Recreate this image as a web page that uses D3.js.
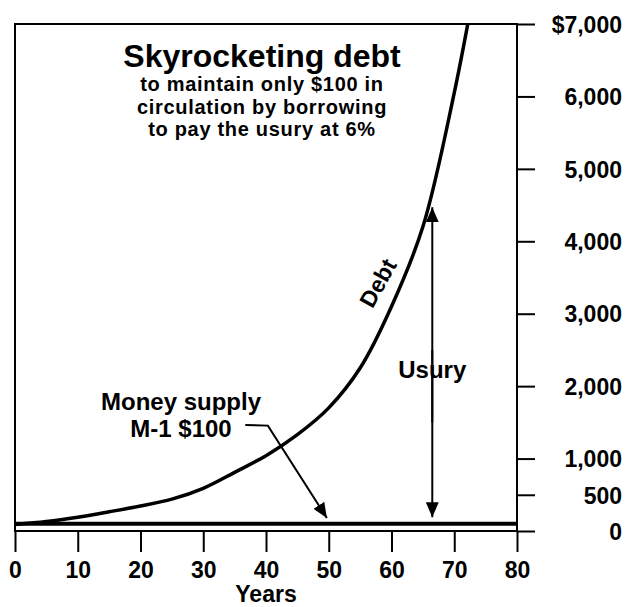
<!DOCTYPE html>
<html>
<head>
<meta charset="utf-8">
<script src="https://cdn.jsdelivr.net/npm/d3@7"></script>
<style>
  html, body { margin: 0; padding: 0; background: #fff; }
  svg { display: block; font-family: "Liberation Sans", Arial, Helvetica, sans-serif; font-weight: bold; }
</style>
</head>
<body>
<svg id="chart" width="637" height="607"></svg>
<script>
// debt curve (dollars by year)
const years = [0, 5, 10, 15, 20, 25, 30, 35, 40, 45, 50, 55, 60, 65, 70, 73];
const debt = [90, 130, 190, 265, 345, 440, 590, 810, 1040, 1330, 1700, 2250, 3100, 4200, 6050, 7400];
const moneySupply = 100;

const xTicks = [0, 10, 20, 30, 40, 50, 60, 70, 80];
const yTicks = [0, 500, 1000, 2000, 3000, 4000, 5000, 6000, 7000];

const titleText = "Skyrocketing debt";
const subtitleLines = ["to maintain only $100 in", "circulation by borrowing", "to pay the usury at 6%"];

const svg = d3.select("#chart");

const x = d3.scaleLinear().domain([0, 80]).range([15, 517]);
const y = d3.scaleLinear().domain([0, 7000]).range([531, 24]);

const defs = svg.append("defs");
defs.append("clipPath").attr("id", "plot")
  .append("rect")
  .attr("x", x(0)).attr("y", y(7000))
  .attr("width", x(80) - x(0)).attr("height", y(0) - y(7000));

defs.append("marker")
  .attr("id", "head")
  .attr("viewBox", "0 0 15 13")
  .attr("refX", 15).attr("refY", 6.5)
  .attr("markerWidth", 15).attr("markerHeight", 13)
  .attr("markerUnits", "userSpaceOnUse")
  .attr("orient", "auto")
  .append("path")
  .attr("d", "M0,0 L15,6.5 L0,13 Z")
  .attr("fill", "#000");

// x axis
const xAxis = svg.append("g")
  .attr("transform", `translate(0,${y(0)})`)
  .call(d3.axisBottom(x).tickValues(xTicks).tickSize(21).tickSizeOuter(0).tickPadding(10));
xAxis.select(".domain").remove();
xAxis.selectAll("line").attr("stroke", "#000").attr("stroke-width", 2);
xAxis.selectAll("text")
  .attr("fill", "#000")
  .style("font-size", "23px")
  .style("font-weight", "bold");

// right axis
const yAxis = svg.append("g")
  .attr("transform", `translate(${x(80)},0)`)
  .call(d3.axisRight(y).tickValues(yTicks).tickSize(18).tickSizeOuter(0)
    .tickFormat(d => d === 7000 ? "$7,000" : d3.format(",")(d)));
yAxis.select(".domain").remove();
yAxis.selectAll("line").attr("stroke", "#000").attr("stroke-width", 2);
yAxis.selectAll("text")
  .attr("fill", "#000")
  .attr("text-anchor", "end")
  .attr("x", 105)
  .attr("dy", "0.36em")
  .style("font-size", "23px")
  .style("font-weight", "bold");

// frame
svg.append("rect")
  .attr("x", x(0)).attr("y", y(7000))
  .attr("width", x(80) - x(0)).attr("height", y(0) - y(7000))
  .attr("fill", "none")
  .attr("stroke", "#000")
  .attr("stroke-width", 2);

// money supply line
svg.append("line")
  .attr("x1", x(0)).attr("x2", x(80))
  .attr("y1", y(moneySupply)).attr("y2", y(moneySupply))
  .attr("stroke", "#000")
  .attr("stroke-width", 4);

// debt curve
const line = d3.line()
  .x((d, i) => x(years[i]))
  .y(d => y(d))
  .curve(d3.curveCatmullRom.alpha(0.5));

svg.append("path")
  .datum(debt)
  .attr("clip-path", "url(#plot)")
  .attr("d", line)
  .attr("fill", "none")
  .attr("stroke", "#000")
  .attr("stroke-width", 3.5);

// title block
svg.append("text")
  .attr("x", 262).attr("y", 67)
  .attr("text-anchor", "middle")
  .style("font-size", "32px")
  .text(titleText);

svg.append("g").selectAll("text")
  .data(subtitleLines)
  .join("text")
  .attr("x", 262)
  .attr("y", (d, i) => 91 + i * 22.5)
  .attr("text-anchor", "middle")
  .style("font-size", "20px")
  .style("letter-spacing", "0.7px")
  .text(d => d);

// Debt label along the curve
svg.append("text")
  .attr("transform", "translate(378,283) rotate(-61)")
  .attr("text-anchor", "middle")
  .attr("dominant-baseline", "central")
  .style("font-size", "23px")
  .text("Debt");

// Usury double arrow
svg.append("line")
  .attr("x1", x(66.5)).attr("x2", x(66.5))
  .attr("y1", y(1500)).attr("y2", y(4470))
  .attr("stroke", "#000").attr("stroke-width", 2)
  .attr("marker-end", "url(#head)");
svg.append("line")
  .attr("x1", x(66.5)).attr("x2", x(66.5))
  .attr("y1", y(2500)).attr("y2", y(190))
  .attr("stroke", "#000").attr("stroke-width", 2)
  .attr("marker-end", "url(#head)");

svg.append("text")
  .attr("x", x(66.5)).attr("y", 378)
  .attr("text-anchor", "middle")
  .style("font-size", "24px")
  .text("Usury");

// Money supply label with leader arrow
svg.append("text")
  .attr("x", 181).attr("y", 410)
  .attr("text-anchor", "middle")
  .style("font-size", "24px")
  .text("Money supply");
svg.append("text")
  .attr("x", 181).attr("y", 437)
  .attr("text-anchor", "middle")
  .style("font-size", "24px")
  .text("M-1 $100");

const leader = [[36.7, 1463], [40.3, 1455], [49.7, 180]];
svg.append("path")
  .attr("d", d3.line().x(d => x(d[0])).y(d => y(d[1]))(leader))
  .attr("fill", "none")
  .attr("stroke", "#000").attr("stroke-width", 2)
  .attr("marker-end", "url(#head)");

// axis title
svg.append("text")
  .attr("x", x(40)).attr("y", 602)
  .attr("text-anchor", "middle")
  .style("font-size", "23px")
  .text("Years");
</script>
</body>
</html>
